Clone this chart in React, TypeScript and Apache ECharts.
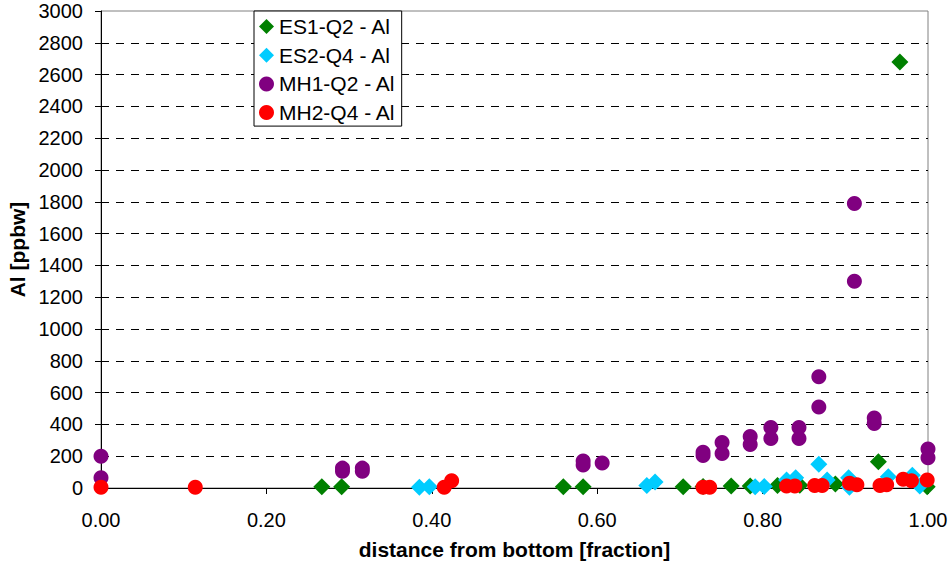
import React, { useEffect, useRef } from "react";
import * as echarts from "echarts";

// Al concentration [ppbw] against relative distance from the bottom of the ingot
const es1Frac = [0.267, 0.291, 0.559, 0.583, 0.704, 0.728, 0.762, 0.785, 0.818, 0.845, 0.888, 0.94, 0.966, 0.999];
const es1Al = [8, 8, 8, 8, 8, 10, 12, 12, 15, 18, 25, 165, 2680, 8];

const es2Frac = [0.385, 0.397, 0.66, 0.67, 0.791, 0.802, 0.829, 0.84, 0.868, 0.878, 0.904, 0.905, 0.952, 0.981, 0.99];
const es2Al = [5, 8, 15, 38, 8, 10, 50, 65, 150, 50, 65, 5, 70, 80, 12];

const mh1Frac = [0, 0, 0.292, 0.292, 0.316, 0.316, 0.583, 0.583, 0.606, 0.728, 0.728, 0.751, 0.751, 0.785, 0.785, 0.81, 0.81, 0.844, 0.844, 0.868, 0.868, 0.911, 0.911, 0.935, 0.935, 1.0, 1.0];
const mh1Al = [200, 65, 125, 105, 125, 105, 170, 145, 157, 225, 205, 286, 217, 324, 274, 380, 311, 380, 311, 700, 510, 1790, 1300, 440, 405, 245, 190];

const mh2Frac = [0, 0.114, 0.415, 0.424, 0.728, 0.736, 0.829, 0.839, 0.863, 0.872, 0.905, 0.914, 0.942, 0.95, 0.97, 0.98, 0.999];
const mh2Al = [5, 5, 5, 45, 5, 5, 12, 12, 15, 15, 30, 20, 15, 20, 55, 45, 50];

const seriesNames = ["ES1-Q2 - Al", "ES2-Q4 - Al", "MH1-Q2 - Al", "MH2-Q4 - Al"];
const xTicks = [0, 0.2, 0.4, 0.6, 0.8, 1.0];
const yTickStep = 200;

const pairs = (xs: number[], ys: number[]) => xs.map((x, i) => [x, ys[i]]);

const FONT = "'Liberation Sans', Arial, sans-serif";

export default function App() {
  const ref = useRef<HTMLDivElement>(null);

  useEffect(() => {
    if (!ref.current) return;
    const chart = echarts.init(ref.current, undefined, { renderer: "svg" });

    const scatter = (name: string, data: number[][], symbol: string, size: number, color: string) => ({
      name,
      type: "scatter",
      data,
      symbol,
      symbolSize: size,
      clip: false,
      itemStyle: { color, opacity: 1 },
      emphasis: { disabled: true },
    });

    chart.setOption({
      animation: false,
      backgroundColor: "#ffffff",
      textStyle: { fontFamily: FONT },
      grid: {
        left: 101,
        right: 24,
        top: 11,
        bottom: 76,
        containLabel: false,
        outerBoundsMode: "none",
        show: true,
        borderColor: "#808080",
        borderWidth: 1,
        backgroundColor: "#ffffff",
      },
      legend: {
        orient: "vertical",
        left: 254,
        top: 11,
        width: 152,
        padding: [5, 6, 3, 5],
        itemGap: 7.7,
        itemWidth: 15,
        itemHeight: 15,
        borderColor: "#000000",
        borderWidth: 1,
        backgroundColor: "#ffffff",
        textStyle: { fontFamily: FONT, fontSize: 21, color: "#000", lineHeight: 21, padding: [0, 0, 0, 0] },
        data: seriesNames,
      },
      xAxis: {
        type: "value",
        min: xTicks[0],
        max: xTicks[xTicks.length - 1],
        interval: xTicks[1] - xTicks[0],
        name: "distance from bottom [fraction]",
        nameLocation: "middle",
        nameGap: 51,
        nameTextStyle: { fontFamily: FONT, fontSize: 21, fontWeight: "bold", color: "#000" },
        axisLine: { show: true, lineStyle: { color: "#000", width: 1 } },
        axisTick: { show: true, inside: false, length: 6, lineStyle: { color: "#000" } },
        axisLabel: {
          margin: 22,
          fontFamily: FONT,
          fontSize: 20,
          color: "#000",
          formatter: (v: number) => v.toFixed(2),
        },
        splitLine: { show: false },
      },
      yAxis: {
        type: "value",
        min: 0,
        max: 3000,
        interval: yTickStep,
        name: "Al [ppbw]",
        nameLocation: "middle",
        nameGap: 72,
        nameTextStyle: { fontFamily: FONT, fontSize: 21, fontWeight: "bold", color: "#000" },
        axisLine: { show: true, lineStyle: { color: "#000", width: 1 } },
        axisTick: { show: true, inside: false, length: 6, lineStyle: { color: "#000" } },
        axisLabel: {
          margin: 18,
          fontFamily: FONT,
          fontSize: 20,
          color: "#000",
          formatter: (v: number) => String(v),
        },
        splitLine: {
          show: true,
          showMinLine: false,
          showMaxLine: false,
          lineStyle: { color: "#000", width: 1, type: [8, 7] },
        },
      },
      series: [
        scatter(seriesNames[0], pairs(es1Frac, es1Al), "diamond", 17, "#008000"),
        scatter(seriesNames[1], pairs(es2Frac, es2Al), "diamond", 17, "#00CCFF"),
        scatter(seriesNames[2], pairs(mh1Frac, mh1Al), "circle", 15, "#800080"),
        scatter(seriesNames[3], pairs(mh2Frac, mh2Al), "circle", 15, "#FF0000"),
      ],
    });

    return () => chart.dispose();
  }, []);

  return (
    <div
      ref={ref}
      style={{ position: "fixed", left: 0, top: 0, width: 952, height: 564, background: "#fff" }}
    />
  );
}
